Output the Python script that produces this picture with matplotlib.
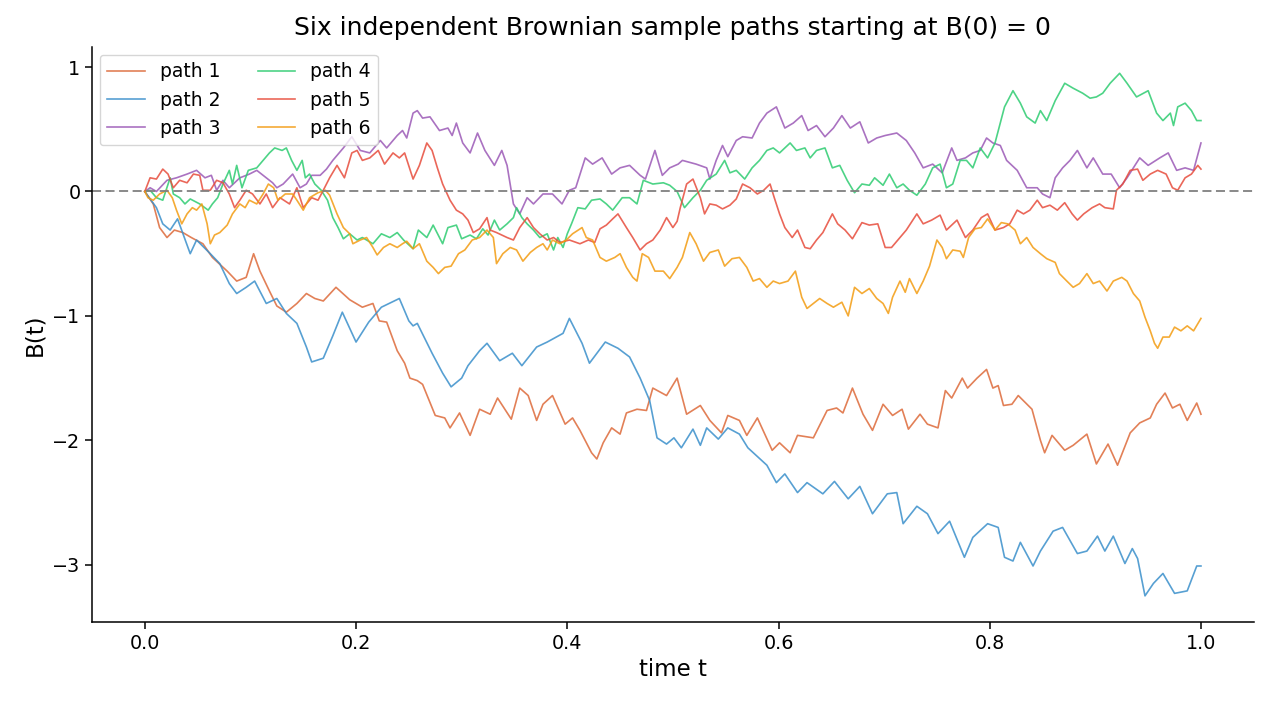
import matplotlib
matplotlib.use("Agg")
import matplotlib.pyplot as plt

# ---- data ----
t1 = [0, 0.008, 0.014, 0.021, 0.028, 0.036, 0.044, 0.055, 0.064, 0.078, 0.087, 0.096, 0.103, 0.109, 0.118, 0.125, 0.134, 0.144, 0.153, 0.161, 0.169, 0.181, 0.194, 0.206, 0.216, 0.222, 0.229, 0.239, 0.246, 0.251, 0.258, 0.263, 0.275, 0.284, 0.289, 0.298, 0.308, 0.317, 0.327, 0.334, 0.347, 0.355, 0.363, 0.371, 0.377, 0.386, 0.398, 0.405, 0.412, 0.423, 0.428, 0.434, 0.442, 0.450, 0.456, 0.466, 0.475, 0.481, 0.494, 0.504, 0.513, 0.526, 0.535, 0.546, 0.552, 0.563, 0.570, 0.580, 0.594, 0.601, 0.611, 0.618, 0.633, 0.646, 0.655, 0.661, 0.670, 0.680, 0.689, 0.699, 0.708, 0.717, 0.723, 0.734, 0.741, 0.751, 0.758, 0.764, 0.774, 0.779, 0.788, 0.797, 0.803, 0.808, 0.813, 0.821, 0.827, 0.840, 0.848, 0.852, 0.859, 0.871, 0.879, 0.892, 0.901, 0.912, 0.921, 0.933, 0.942, 0.952, 0.958, 0.966, 0.973, 0.980, 0.987, 0.996, 1.0]
b1 = [0, -0.10, -0.29, -0.37, -0.31, -0.33, -0.37, -0.42, -0.53, -0.64, -0.72, -0.69, -0.50, -0.64, -0.80, -0.92, -0.97, -0.90, -0.82, -0.86, -0.88, -0.77, -0.87, -0.93, -0.90, -1.04, -1.05, -1.28, -1.38, -1.50, -1.52, -1.55, -1.80, -1.82, -1.90, -1.78, -1.96, -1.75, -1.79, -1.66, -1.83, -1.58, -1.64, -1.84, -1.71, -1.64, -1.87, -1.82, -1.92, -2.10, -2.15, -2.02, -1.90, -1.95, -1.78, -1.75, -1.76, -1.58, -1.64, -1.50, -1.79, -1.72, -1.84, -1.94, -1.80, -1.84, -1.96, -1.82, -2.08, -2.02, -2.10, -1.96, -1.98, -1.76, -1.74, -1.78, -1.58, -1.79, -1.92, -1.71, -1.80, -1.75, -1.91, -1.79, -1.87, -1.90, -1.60, -1.66, -1.50, -1.58, -1.50, -1.43, -1.58, -1.56, -1.72, -1.71, -1.64, -1.75, -2.00, -2.10, -1.96, -2.08, -2.04, -1.95, -2.19, -2.03, -2.20, -1.94, -1.86, -1.82, -1.71, -1.62, -1.74, -1.71, -1.84, -1.70, -1.79]

t2 = [0, 0.011, 0.017, 0.024, 0.031, 0.043, 0.049, 0.062, 0.071, 0.080, 0.087, 0.096, 0.104, 0.115, 0.125, 0.134, 0.144, 0.153, 0.158, 0.169, 0.178, 0.187, 0.200, 0.212, 0.224, 0.241, 0.250, 0.254, 0.258, 0.272, 0.282, 0.290, 0.300, 0.306, 0.317, 0.324, 0.336, 0.348, 0.357, 0.371, 0.381, 0.396, 0.402, 0.414, 0.421, 0.436, 0.448, 0.459, 0.469, 0.478, 0.485, 0.494, 0.501, 0.508, 0.519, 0.526, 0.532, 0.543, 0.552, 0.563, 0.571, 0.589, 0.598, 0.606, 0.618, 0.627, 0.642, 0.653, 0.666, 0.677, 0.689, 0.703, 0.712, 0.718, 0.731, 0.741, 0.751, 0.762, 0.776, 0.784, 0.798, 0.808, 0.814, 0.822, 0.829, 0.841, 0.848, 0.860, 0.869, 0.883, 0.892, 0.902, 0.909, 0.917, 0.928, 0.935, 0.940, 0.947, 0.955, 0.964, 0.975, 0.987, 0.996, 1.0]
b2 = [0, -0.13, -0.26, -0.31, -0.22, -0.50, -0.39, -0.50, -0.58, -0.74, -0.82, -0.77, -0.72, -0.90, -0.86, -0.98, -1.06, -1.25, -1.37, -1.34, -1.16, -0.97, -1.21, -1.05, -0.93, -0.86, -1.04, -1.08, -1.06, -1.30, -1.46, -1.57, -1.50, -1.40, -1.28, -1.22, -1.36, -1.30, -1.40, -1.25, -1.21, -1.14, -1.02, -1.22, -1.38, -1.21, -1.26, -1.33, -1.50, -1.68, -1.98, -2.03, -1.98, -2.06, -1.91, -2.04, -1.90, -1.99, -1.90, -1.95, -2.06, -2.20, -2.34, -2.27, -2.42, -2.34, -2.43, -2.33, -2.47, -2.37, -2.59, -2.43, -2.42, -2.67, -2.53, -2.59, -2.75, -2.65, -2.94, -2.78, -2.67, -2.70, -2.94, -2.97, -2.82, -3.01, -2.89, -2.73, -2.70, -2.91, -2.89, -2.77, -2.89, -2.77, -2.99, -2.87, -2.95, -3.25, -3.15, -3.07, -3.23, -3.21, -3.01, -3.01]

t3 = [0, 0.005, 0.011, 0.021, 0.030, 0.040, 0.049, 0.057, 0.063, 0.068, 0.074, 0.080, 0.090, 0.099, 0.106, 0.115, 0.121, 0.125, 0.131, 0.140, 0.147, 0.153, 0.158, 0.166, 0.172, 0.178, 0.188, 0.196, 0.204, 0.213, 0.223, 0.229, 0.239, 0.244, 0.248, 0.254, 0.258, 0.263, 0.270, 0.279, 0.287, 0.291, 0.295, 0.301, 0.308, 0.315, 0.322, 0.331, 0.338, 0.343, 0.349, 0.355, 0.362, 0.368, 0.377, 0.386, 0.395, 0.402, 0.408, 0.417, 0.424, 0.433, 0.442, 0.450, 0.459, 0.469, 0.474, 0.483, 0.490, 0.497, 0.505, 0.509, 0.522, 0.532, 0.535, 0.541, 0.547, 0.552, 0.560, 0.566, 0.575, 0.582, 0.589, 0.598, 0.606, 0.614, 0.622, 0.628, 0.636, 0.644, 0.652, 0.660, 0.668, 0.677, 0.685, 0.693, 0.701, 0.712, 0.721, 0.729, 0.737, 0.746, 0.755, 0.764, 0.769, 0.777, 0.784, 0.791, 0.797, 0.803, 0.810, 0.816, 0.826, 0.835, 0.845, 0.850, 0.857, 0.862, 0.869, 0.876, 0.883, 0.892, 0.898, 0.907, 0.915, 0.923, 0.930, 0.942, 0.950, 0.961, 0.969, 0.977, 0.985, 0.993, 1.0]
b3 = [0, 0.03, 0.00, 0.09, 0.11, 0.14, 0.17, 0.11, 0.13, 0.01, 0.09, 0.03, 0.11, 0.14, 0.17, 0.11, 0.07, 0.03, 0.06, 0.14, 0.03, 0.06, 0.13, 0.13, 0.18, 0.25, 0.35, 0.44, 0.33, 0.31, 0.41, 0.35, 0.45, 0.49, 0.43, 0.63, 0.65, 0.59, 0.60, 0.49, 0.51, 0.45, 0.55, 0.39, 0.31, 0.47, 0.33, 0.21, 0.33, 0.21, -0.10, -0.18, -0.05, -0.10, -0.02, -0.02, -0.10, 0.01, 0.03, 0.27, 0.22, 0.27, 0.14, 0.19, 0.21, 0.13, 0.10, 0.33, 0.13, 0.19, 0.22, 0.25, 0.22, 0.19, 0.10, 0.25, 0.37, 0.28, 0.41, 0.44, 0.43, 0.55, 0.63, 0.68, 0.51, 0.55, 0.61, 0.49, 0.53, 0.44, 0.51, 0.61, 0.51, 0.56, 0.39, 0.43, 0.45, 0.47, 0.41, 0.31, 0.19, 0.22, 0.15, 0.35, 0.25, 0.27, 0.31, 0.33, 0.43, 0.39, 0.37, 0.25, 0.17, 0.03, 0.03, -0.02, -0.05, 0.11, 0.19, 0.25, 0.33, 0.19, 0.27, 0.14, 0.14, 0.03, 0.11, 0.27, 0.21, 0.27, 0.31, 0.17, 0.19, 0.17, 0.39]

t4 = [0, 0.005, 0.011, 0.017, 0.024, 0.027, 0.033, 0.038, 0.043, 0.052, 0.060, 0.064, 0.069, 0.074, 0.080, 0.083, 0.087, 0.092, 0.098, 0.106, 0.112, 0.118, 0.123, 0.130, 0.134, 0.139, 0.144, 0.149, 0.152, 0.156, 0.161, 0.167, 0.173, 0.178, 0.183, 0.188, 0.194, 0.201, 0.206, 0.216, 0.224, 0.232, 0.239, 0.245, 0.254, 0.259, 0.267, 0.273, 0.282, 0.287, 0.295, 0.300, 0.308, 0.314, 0.320, 0.325, 0.331, 0.336, 0.343, 0.349, 0.352, 0.357, 0.362, 0.368, 0.374, 0.381, 0.387, 0.391, 0.396, 0.400, 0.404, 0.410, 0.417, 0.423, 0.431, 0.437, 0.443, 0.452, 0.459, 0.466, 0.472, 0.481, 0.491, 0.497, 0.504, 0.511, 0.519, 0.526, 0.532, 0.541, 0.549, 0.554, 0.560, 0.568, 0.575, 0.582, 0.589, 0.595, 0.601, 0.611, 0.617, 0.625, 0.630, 0.636, 0.644, 0.651, 0.658, 0.665, 0.672, 0.679, 0.686, 0.691, 0.699, 0.705, 0.712, 0.718, 0.724, 0.731, 0.739, 0.746, 0.753, 0.759, 0.765, 0.772, 0.778, 0.784, 0.791, 0.798, 0.805, 0.810, 0.814, 0.822, 0.829, 0.835, 0.843, 0.848, 0.854, 0.862, 0.871, 0.879, 0.888, 0.895, 0.901, 0.907, 0.914, 0.923, 0.930, 0.939, 0.950, 0.958, 0.964, 0.971, 0.974, 0.978, 0.985, 0.991, 0.996, 1.0]
b4 = [0, 0.01, -0.05, -0.07, 0.11, -0.02, -0.05, -0.10, -0.06, -0.10, -0.15, -0.10, -0.05, 0.06, 0.17, 0.06, 0.21, 0.03, 0.17, 0.19, 0.25, 0.31, 0.35, 0.33, 0.35, 0.25, 0.17, 0.25, 0.11, 0.14, 0.06, 0.01, -0.07, -0.21, -0.29, -0.38, -0.34, -0.39, -0.37, -0.42, -0.34, -0.37, -0.33, -0.39, -0.46, -0.31, -0.37, -0.27, -0.42, -0.29, -0.27, -0.38, -0.35, -0.38, -0.30, -0.35, -0.23, -0.31, -0.26, -0.21, -0.13, -0.21, -0.26, -0.31, -0.37, -0.34, -0.47, -0.37, -0.45, -0.34, -0.26, -0.13, -0.14, -0.07, -0.06, -0.10, -0.15, -0.05, -0.05, -0.10, 0.09, 0.06, 0.07, 0.05, 0.00, -0.13, -0.05, 0.01, 0.09, 0.14, 0.25, 0.15, 0.17, 0.10, 0.19, 0.25, 0.33, 0.35, 0.31, 0.39, 0.33, 0.35, 0.27, 0.33, 0.35, 0.19, 0.21, 0.09, -0.01, 0.06, 0.05, 0.11, 0.05, 0.14, 0.03, 0.06, 0.01, -0.03, 0.06, 0.19, 0.22, 0.03, 0.06, 0.25, 0.25, 0.19, 0.35, 0.27, 0.39, 0.55, 0.68, 0.81, 0.71, 0.60, 0.55, 0.65, 0.57, 0.73, 0.87, 0.83, 0.79, 0.75, 0.76, 0.79, 0.87, 0.95, 0.87, 0.76, 0.81, 0.63, 0.57, 0.63, 0.53, 0.68, 0.71, 0.65, 0.57, 0.57]

t5 = [0, 0.005, 0.011, 0.017, 0.022, 0.027, 0.033, 0.040, 0.046, 0.052, 0.055, 0.062, 0.068, 0.074, 0.080, 0.085, 0.090, 0.096, 0.102, 0.109, 0.115, 0.121, 0.128, 0.137, 0.144, 0.150, 0.158, 0.164, 0.169, 0.175, 0.182, 0.189, 0.196, 0.201, 0.206, 0.213, 0.221, 0.227, 0.235, 0.241, 0.246, 0.254, 0.260, 0.267, 0.272, 0.277, 0.282, 0.289, 0.295, 0.301, 0.306, 0.311, 0.317, 0.324, 0.327, 0.333, 0.343, 0.349, 0.355, 0.362, 0.368, 0.374, 0.381, 0.387, 0.393, 0.402, 0.412, 0.420, 0.426, 0.431, 0.437, 0.443, 0.448, 0.456, 0.462, 0.469, 0.475, 0.481, 0.488, 0.494, 0.500, 0.504, 0.507, 0.513, 0.519, 0.526, 0.530, 0.535, 0.541, 0.547, 0.554, 0.560, 0.566, 0.573, 0.580, 0.586, 0.592, 0.596, 0.601, 0.606, 0.613, 0.618, 0.625, 0.630, 0.636, 0.642, 0.651, 0.656, 0.663, 0.670, 0.679, 0.686, 0.694, 0.701, 0.707, 0.713, 0.721, 0.731, 0.737, 0.745, 0.753, 0.759, 0.769, 0.777, 0.784, 0.792, 0.798, 0.805, 0.813, 0.819, 0.826, 0.832, 0.838, 0.845, 0.850, 0.857, 0.864, 0.871, 0.878, 0.883, 0.889, 0.897, 0.904, 0.909, 0.917, 0.920, 0.926, 0.933, 0.940, 0.945, 0.952, 0.959, 0.967, 0.973, 0.978, 0.985, 0.991, 0.997, 1.0]
b5 = [0, 0.11, 0.10, 0.18, 0.14, 0.03, 0.09, 0.07, 0.14, 0.13, 0.01, 0.01, 0.09, 0.07, -0.02, -0.13, -0.07, 0.01, -0.02, -0.10, -0.02, -0.13, -0.05, -0.10, 0.03, -0.13, -0.05, -0.07, 0.01, 0.11, 0.21, 0.11, 0.31, 0.33, 0.25, 0.27, 0.33, 0.22, 0.31, 0.27, 0.31, 0.10, 0.21, 0.39, 0.33, 0.19, 0.06, -0.07, -0.15, -0.18, -0.23, -0.33, -0.30, -0.21, -0.31, -0.33, -0.37, -0.39, -0.29, -0.21, -0.29, -0.34, -0.39, -0.37, -0.41, -0.39, -0.42, -0.39, -0.41, -0.30, -0.27, -0.22, -0.18, -0.29, -0.37, -0.47, -0.42, -0.39, -0.31, -0.21, -0.29, -0.24, -0.13, 0.06, 0.10, -0.05, -0.18, -0.10, -0.11, -0.14, -0.11, -0.06, 0.06, 0.03, -0.02, 0.01, 0.06, -0.05, -0.18, -0.29, -0.37, -0.31, -0.45, -0.46, -0.39, -0.33, -0.18, -0.26, -0.31, -0.38, -0.25, -0.27, -0.26, -0.45, -0.45, -0.39, -0.31, -0.18, -0.26, -0.23, -0.19, -0.31, -0.23, -0.37, -0.31, -0.21, -0.18, -0.31, -0.29, -0.26, -0.15, -0.18, -0.15, -0.07, -0.13, -0.11, -0.15, -0.09, -0.18, -0.23, -0.18, -0.13, -0.10, -0.13, -0.14, 0.01, 0.06, 0.17, 0.18, 0.09, 0.14, 0.17, 0.14, 0.03, 0.01, 0.11, 0.14, 0.21, 0.18]

t6 = [0, 0.003, 0.008, 0.014, 0.021, 0.026, 0.030, 0.035, 0.040, 0.045, 0.049, 0.054, 0.059, 0.062, 0.066, 0.071, 0.078, 0.083, 0.090, 0.095, 0.099, 0.106, 0.112, 0.117, 0.122, 0.126, 0.133, 0.140, 0.144, 0.150, 0.156, 0.164, 0.171, 0.175, 0.182, 0.188, 0.194, 0.197, 0.204, 0.210, 0.216, 0.220, 0.226, 0.232, 0.239, 0.244, 0.248, 0.254, 0.260, 0.267, 0.273, 0.278, 0.284, 0.290, 0.297, 0.303, 0.310, 0.317, 0.324, 0.330, 0.333, 0.339, 0.346, 0.352, 0.358, 0.365, 0.371, 0.377, 0.381, 0.386, 0.393, 0.399, 0.405, 0.414, 0.418, 0.424, 0.431, 0.437, 0.445, 0.450, 0.456, 0.462, 0.466, 0.471, 0.477, 0.483, 0.491, 0.497, 0.504, 0.509, 0.516, 0.522, 0.529, 0.535, 0.543, 0.549, 0.556, 0.563, 0.570, 0.576, 0.582, 0.589, 0.595, 0.601, 0.609, 0.616, 0.622, 0.627, 0.633, 0.639, 0.646, 0.652, 0.660, 0.666, 0.672, 0.679, 0.686, 0.693, 0.699, 0.704, 0.708, 0.715, 0.720, 0.724, 0.731, 0.737, 0.743, 0.750, 0.755, 0.759, 0.765, 0.772, 0.775, 0.780, 0.786, 0.792, 0.798, 0.805, 0.811, 0.817, 0.824, 0.829, 0.835, 0.841, 0.848, 0.854, 0.862, 0.866, 0.873, 0.879, 0.885, 0.892, 0.898, 0.904, 0.911, 0.917, 0.925, 0.930, 0.936, 0.942, 0.947, 0.952, 0.956, 0.959, 0.964, 0.970, 0.975, 0.981, 0.987, 0.993, 1.0]
b6 = [0, -0.05, -0.07, -0.02, 0.01, -0.05, -0.15, -0.26, -0.18, -0.13, -0.15, -0.10, -0.26, -0.42, -0.35, -0.33, -0.27, -0.18, -0.10, -0.13, -0.07, -0.10, -0.02, 0.06, 0.03, -0.07, -0.02, -0.02, -0.07, -0.15, -0.05, -0.01, 0.01, -0.03, -0.18, -0.29, -0.34, -0.42, -0.39, -0.37, -0.45, -0.51, -0.45, -0.42, -0.45, -0.42, -0.40, -0.46, -0.42, -0.56, -0.61, -0.66, -0.61, -0.60, -0.50, -0.47, -0.39, -0.37, -0.31, -0.37, -0.58, -0.50, -0.45, -0.47, -0.56, -0.49, -0.45, -0.42, -0.47, -0.39, -0.42, -0.39, -0.34, -0.29, -0.37, -0.39, -0.53, -0.56, -0.53, -0.50, -0.61, -0.69, -0.72, -0.50, -0.53, -0.64, -0.64, -0.70, -0.61, -0.53, -0.33, -0.42, -0.56, -0.49, -0.47, -0.60, -0.54, -0.53, -0.61, -0.72, -0.70, -0.77, -0.72, -0.74, -0.72, -0.64, -0.85, -0.94, -0.90, -0.86, -0.90, -0.93, -0.89, -1.00, -0.77, -0.82, -0.78, -0.86, -0.90, -0.98, -0.85, -0.72, -0.81, -0.70, -0.82, -0.72, -0.60, -0.39, -0.45, -0.54, -0.47, -0.48, -0.53, -0.37, -0.30, -0.29, -0.22, -0.31, -0.25, -0.26, -0.31, -0.42, -0.37, -0.45, -0.50, -0.54, -0.57, -0.66, -0.72, -0.77, -0.74, -0.66, -0.74, -0.72, -0.80, -0.72, -0.69, -0.72, -0.82, -0.88, -1.01, -1.12, -1.22, -1.26, -1.17, -1.17, -1.09, -1.12, -1.08, -1.12, -1.02]

labels = ["path 1", "path 2", "path 3", "path 4", "path 5", "path 6"]
colors = ["#dd6a3a", "#3a8fcb", "#9b59b6", "#2ecc71", "#e74c3c", "#f39c12"]
title = "Six independent Brownian sample paths starting at B(0) = 0"

fig = plt.figure(figsize=(12.69, 7.04), dpi=100)
ax = fig.add_axes([0.0725, 0.1165, 0.9155, 0.8165])

series = [(t1, b1), (t2, b2), (t3, b3), (t4, b4), (t5, b5), (t6, b6)]
for (tt, bb), lab, col in zip(series, labels, colors):
    ax.plot(tt, bb, color=col, lw=1.2, alpha=0.85, label=lab)

ax.axhline(0, color="gray", lw=1.3, ls=(0, (5, 2.5)))
ax.set_xlim(-0.05, 1.05)
ax.set_ylim(-3.46, 1.16)
ax.set_xticks([0.0, 0.2, 0.4, 0.6, 0.8, 1.0])
ax.set_yticks([-3, -2, -1, 0, 1])
ax.tick_params(labelsize=13.8, length=4.8, width=1.1)
ax.set_xlabel("time t", fontsize=16.5)
ax.set_ylabel("B(t)", fontsize=16.5)
ax.set_title(title, fontsize=18, pad=9)
for s in ["left", "bottom"]:
    ax.spines[s].set_linewidth(1.1)
ax.spines["top"].set_visible(False)
ax.spines["right"].set_visible(False)
ax.legend(loc="upper left", ncol=2, fontsize=13.5, borderaxespad=0.4)

fig.savefig("out.png", dpi=100)
